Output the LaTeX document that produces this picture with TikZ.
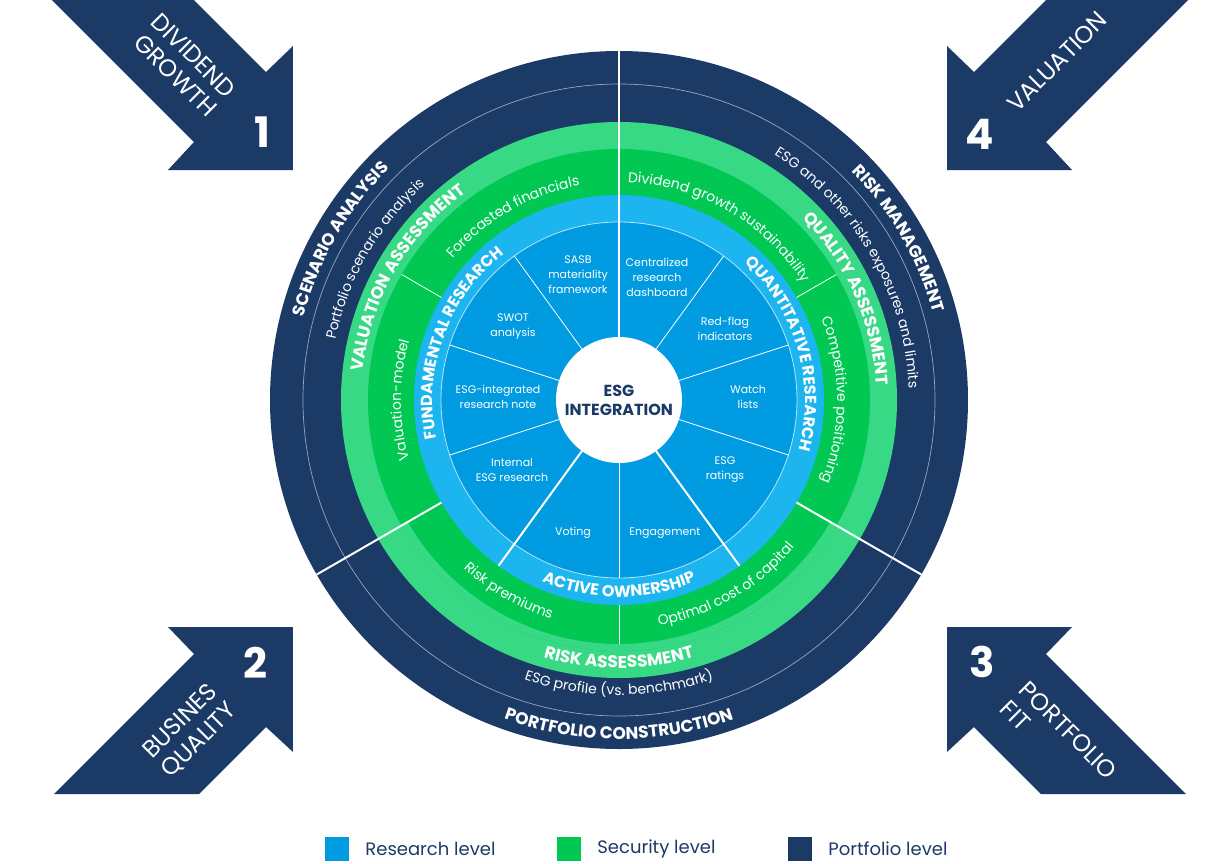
\documentclass[tikz,border=0pt]{standalone}
\usepackage{fontspec}
\setmainfont{Poppins}
\usetikzlibrary{positioning}
\usetikzlibrary{decorations.text}

\definecolor{navy}{HTML}{1B3A66}
\definecolor{lgreen}{HTML}{38D985}
\definecolor{dgreen}{HTML}{00C853}
\definecolor{lblue}{HTML}{1CB5F0}
\definecolor{mblue}{HTML}{009BE0}

\newcommand\ringcaps{\bfseries\fontsize{17}{17}\selectfont}
\newcommand\ringlight{\fontsize{14}{14}\selectfont}
\newcommand\bluecaps{\bfseries\fontsize{16}{16}\selectfont}

\tikzset{ringtext/.style={decorate,decoration={text along path,text align=center,text color=white,text={#1}}}}

\begin{document}
\begin{tikzpicture}[x=1pt,y=1pt,
  cellnote/.style={align=center,text=white,font=\fontsize{11}{15}\selectfont},
  bigarrow/.style={fill=navy},
  arrowlabel/.style={text=white,font=\fontsize{24}{27}\selectfont},
  arrownum/.style={text=white,font=\bfseries\fontsize{42}{42}\selectfont},
  legendbox/.style={minimum size=24pt,inner sep=0pt},
  keytext/.style={text=navy,font=\fontsize{18}{18}\selectfont,inner sep=0pt,right=16pt of #1},
  bigcut/.style={white,line width=2pt},
  smallcut/.style={white,line width=0.8pt}]
  \useasboundingbox (-619,-463) rectangle (601,400);

  % rings
  \fill[navy] (0,0) circle (349);
  \draw[white,opacity=.55,line width=.7pt] (0,0) circle (316);
  \fill[lgreen] (0,0) circle (278);
  \fill[dgreen] (0,0) circle (251);
  \fill[lgreen] (210:251) arc[start angle=210,end angle=330,radius=251] -- (330:244) arc[start angle=330,end angle=210,radius=244] -- cycle;
  \fill[lblue] (0,0) circle (205);
  \fill[mblue] (0,0) circle (178);
  \draw[white,opacity=.7,line width=.8pt] (0,0) circle (178);

  % cuts
  \foreach \a in {126,162,198,54,18,-18,270} \draw[smallcut] (\a:63) -- (\a:178);
  \foreach \a in {150,30} \draw[smallcut] (\a:205) -- (\a:251);
  \draw[smallcut] (270:205) -- (270:244);
  \draw[bigcut] (90:63) -- (90:349);
  \foreach \a in {210,330} \draw[bigcut] (\a:205) -- (\a:349);
  \foreach \a in {234,306} \draw[bigcut] (\a:63) -- (\a:205);

  \node[circle,fill=white,minimum size=126pt,inner sep=0pt,align=center,text=navy,font=\bfseries\fontsize{16}{19}\selectfont] (core) at (0,0) {ESG\\INTEGRATION};

  % research cells
  \node[cellnote] (sasb) at (-41,125) {SASB\\materiality\\framework};
  \node[cellnote] (swot) at (-106,73) {SWOT\\analysis};
  \node[cellnote] (note) at (-121,3) {ESG-integrated\\research note};
  \node[cellnote] (intl) at (-107,-70) {Internal\\ESG research};
  \node[cellnote] (vote) at (-46,-133) {Voting};
  \node[cellnote] (enga) at (46,-133) {Engagement};
  \node[cellnote] (rate) at (106,-70) {ESG\\ratings};
  \node[cellnote] (watch) at (129,3) {Watch\\lists};
  \node[cellnote] (flag) at (106,71) {Red-flag\\indicators};
  \node[cellnote] (dash) at (38,123) {Centralized\\research\\dashboard};

  % ring labels
  \path[ringtext={|\ringcaps|SCENARIO ANALYSIS}] (230:326) arc[start angle=230,end angle=70,radius=326];
  \path[ringtext={|\ringcaps|RISK MANAGEMENT}] (110:326) arc[start angle=110,end angle=-50,radius=326];
  \path[ringtext={|\ringcaps|PORTFOLIO CONSTRUCTION}] (190:339) arc[start angle=190,end angle=350,radius=339];
  \path[ringtext={|\ringlight|Portfolio scenario analysis}] (230:290) arc[start angle=230,end angle=70,radius=290];
  \path[ringtext={|\ringlight|ESG and other risks exposures and limits}] (110:290) arc[start angle=110,end angle=-50,radius=290];
  \path[ringtext={|\ringlight|ESG profile (vs. benchmark)}] (190:295) arc[start angle=190,end angle=350,radius=295];
  \path[ringtext={|\ringcaps|VALUATION ASSESSMENT}] (230:258) arc[start angle=230,end angle=70,radius=258];
  \path[ringtext={|\ringcaps|QUALITY ASSESSMENT}] (104:258) arc[start angle=104,end angle=-56,radius=258];
  \path[ringtext={|\ringcaps|RISK ASSESSMENT}] (190:268) arc[start angle=190,end angle=350,radius=268];
  \path[ringtext={|\ringlight|Forecasted financials}] (200:218) arc[start angle=200,end angle=40,radius=218];
  \path[ringtext={|\ringlight|Valuation-model}] (260:218) arc[start angle=260,end angle=100,radius=218];
  \path[ringtext={|\ringlight|Dividend growth sustainability}] (140:218) arc[start angle=140,end angle=-20,radius=218];
  \path[ringtext={|\ringlight|Competitive positioning}] (80:218) arc[start angle=80,end angle=-80,radius=218];
  \path[ringtext={|\ringlight|Risk premiums}] (160:229) arc[start angle=160,end angle=320,radius=229];
  \path[ringtext={|\ringlight|Optimal cost of capital}] (220:229) arc[start angle=220,end angle=380,radius=229];
  \path[ringtext={|\bluecaps|FUNDAMENTAL RESEARCH}] (240:186) arc[start angle=240,end angle=80,radius=186];
  \path[ringtext={|\bluecaps|QUANTITATIVE RESEARCH}] (96:186) arc[start angle=96,end angle=-64,radius=186];
  \path[ringtext={|\bluecaps|ACTIVE OWNERSHIP}] (190:197) arc[start angle=190,end angle=350,radius=197];

  % corner arrows
  \fill[bigarrow] (-567,400) -- (-425,258) -- (-451,230) -- (-326,230) -- (-326,354) -- (-353,328) -- (-425,400) -- cycle;
  \fill[bigarrow] (569,400) -- (427,258) -- (453,230) -- (328,230) -- (328,354) -- (355,328) -- (427,400) -- cycle;
  \fill[bigarrow] (-565,-394) -- (-425,-254) -- (-451,-227) -- (-326,-227) -- (-326,-352) -- (-353,-327) -- (-420,-394) -- cycle;
  \fill[bigarrow] (567,-394) -- (427,-254) -- (453,-227) -- (328,-227) -- (328,-352) -- (355,-327) -- (422,-394) -- cycle;

  \node[arrowlabel,rotate=-45,align=right] (a1) at (-435,335) {DIVIDEND\\GROWTH};
  \node[arrownum] (n1) at (-357,268) {1};
  \node[arrowlabel,rotate=45,align=center] (a2) at (-429,-331) {BUSINES\\QUALITY};
  \node[arrownum] (n2) at (-364,-263) {2};
  \node[arrowlabel,rotate=-45,align=left] (a3) at (440,-340) {PORTFOLIO\\FIT};
  \node[arrownum] (n3) at (363,-262) {3};
  \node[arrowlabel,rotate=45] (a4) at (438,338) {VALUATION};
  \node[arrownum] (n4) at (361,266) {4};

  % legend
  \node[legendbox,fill=mblue] (k1) at (-282,-448.5) {};
  \node[keytext=k1] (t1) {Research level};
  \node[legendbox,fill=dgreen] (k2) at (-50,-448.5) {};
  \node[keytext=k2] (t2) {Security level};
  \node[legendbox,fill=navy] (k3) at (181,-448.5) {};
  \node[keytext=k3] (t3) {Portfolio level};
\end{tikzpicture}
\end{document}
